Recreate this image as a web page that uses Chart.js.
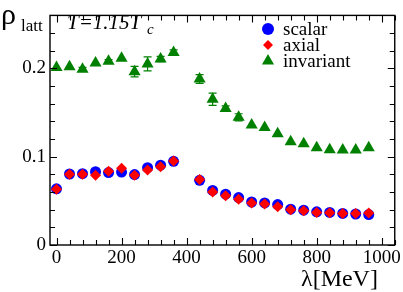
<!DOCTYPE html>
<html>
<head>
<meta charset="utf-8">
<script src="https://cdn.jsdelivr.net/npm/chart.js@4"></script>
<style>
  html, body { margin: 0; padding: 0; background: #fff; }
  canvas { display: block; }
</style>
</head>
<body>
<canvas id="rho-chart" width="403" height="292"></canvas>
<script>
// lambda cut values (MeV) and the three densities
const lambdaMeV = [0, 40, 80, 120, 160, 200, 240, 280, 320, 360,
  440, 480, 520, 560, 600, 640, 680, 720, 760, 800, 840, 880, 920, 960];
const scalarRho = [0.0636, 0.0804, 0.0807, 0.0830, 0.0820, 0.0826, 0.0797, 0.0875, 0.0904, 0.0947,
  0.0733, 0.0618, 0.0576, 0.0537, 0.0487, 0.0476, 0.0458, 0.0405, 0.0394, 0.0376, 0.0369, 0.0358, 0.0351, 0.0344];
const axialRho = [0.0632, 0.0800, 0.0802, 0.0790, 0.0834, 0.0870, 0.0790, 0.0848, 0.0886, 0.0952,
  0.0743, 0.0600, 0.0558, 0.0519, 0.0476, 0.0465, 0.0433, 0.0398, 0.0387, 0.0369, 0.0365, 0.0358, 0.0358, 0.0362];
const invariantRho = [0.2009, 0.2019, 0.1991, 0.2062, 0.2080, 0.2116, 0.1963, 0.2051, 0.2105, 0.2180,
  0.1880, 0.1650, 0.1545, 0.1446, 0.1360, 0.1330, 0.1260, 0.1170, 0.1147, 0.1100, 0.1080, 0.1075, 0.1075, 0.1100];
const invariantErr = [0, 0, 0.002, 0, 0.002, 0, 0.006, 0.008, 0.003, 0.003,
  0.005, 0.007, 0.003, 0.004, 0, 0, 0, 0, 0, 0, 0, 0, 0, 0];

const xTicks = [0, 200, 400, 600, 800, 1000];
const xTickLabels = ['0', '200', '400', '600', '800', '1000'];
const yTicks = [0, 0.1, 0.2];
const yTickLabels = ['0', '0.1', '0.2'];

const FONT = '"Liberation Serif", "DejaVu Serif", serif';
const BLUE = '#0000ff', RED = '#ff0000', GREEN = '#008000';

const toPoints = ys => lambdaMeV.map((x, i) => ({ x, y: ys[i] }));

// frame + inward ticks on all four sides
const framePlugin = {
  id: 'frame',
  afterDraw(chart) {
    const { ctx, chartArea: a, scales: { x, y } } = chart;
    ctx.save();
    ctx.strokeStyle = '#000';
    ctx.lineWidth = 1.4;
    ctx.strokeRect(a.left, a.top, a.right - a.left, a.bottom - a.top);
    ctx.lineWidth = 1.1;
    ctx.beginPath();
    for (let v = 0; v <= 1040; v += 40) {
      const px = Math.round(x.getPixelForValue(v)) + 0.5;
      const len = v % 200 === 0 ? 7 : 5;
      ctx.moveTo(px, a.bottom); ctx.lineTo(px, a.bottom - len);
      ctx.moveTo(px, a.top); ctx.lineTo(px, a.top + len);
    }
    for (let k = 0; k <= 13; k++) {
      const py = Math.round(y.getPixelForValue(k * 0.02)) + 0.5;
      const len = k % 5 === 0 ? 7 : 5;
      ctx.moveTo(a.left, py); ctx.lineTo(a.left + len, py);
      ctx.moveTo(a.right, py); ctx.lineTo(a.right - len, py);
    }
    ctx.stroke();
    ctx.restore();
  }
};

// error bars on the invariant series
const errorBarPlugin = {
  id: 'errorBars',
  afterDatasetsDraw(chart) {
    const { ctx, scales: { x, y } } = chart;
    ctx.save();
    ctx.strokeStyle = GREEN;
    ctx.lineWidth = 1.2;
    ctx.beginPath();
    lambdaMeV.forEach((lam, i) => {
      const e = invariantErr[i];
      if (!e) return;
      const px = x.getPixelForValue(lam);
      const hi = y.getPixelForValue(invariantRho[i] + e);
      const lo = y.getPixelForValue(invariantRho[i] - e);
      ctx.moveTo(px, hi); ctx.lineTo(px, lo);
      ctx.moveTo(px - 4, hi); ctx.lineTo(px + 4, hi);
      ctx.moveTo(px - 4, lo); ctx.lineTo(px + 4, lo);
    });
    ctx.stroke();
    ctx.restore();
  }
};

// axis titles, temperature label and the legend box
const labelsPlugin = {
  id: 'labels',
  afterDraw(chart) {
    const { ctx } = chart;
    ctx.save();
    ctx.fillStyle = '#000';
    ctx.textBaseline = 'alphabetic';
    ctx.textAlign = 'left';

    ctx.font = '30px ' + FONT;
    ctx.fillText('ρ', 1, 24);
    ctx.font = '17px ' + FONT;
    ctx.fillText('latt', 21, 31);

    ctx.font = 'italic 21px ' + FONT;
    ctx.fillText('T=1.15T', 67, 29);
    ctx.font = 'italic 15px ' + FONT;
    ctx.fillText('c', 147, 34);

    ctx.font = '24px ' + FONT;
    ctx.fillText('λ[MeV]', 301, 286);

    const entries = [
      { label: 'scalar', color: BLUE, style: 'circle', radius: 6 },
      { label: 'axial', color: RED, style: 'rectRot', radius: 5 },
      { label: 'invariant', color: GREEN, style: 'triangle', radius: 7 }
    ];
    ctx.font = '19px ' + FONT;
    entries.forEach((en, i) => {
      const cy = 29 + i * 16;
      ctx.fillStyle = en.color;
      ctx.strokeStyle = en.color;
      Chart.helpers.drawPoint(ctx, { pointStyle: en.style, radius: en.radius, rotation: 0, borderWidth: 0 }, 268, cy);
      ctx.fillStyle = '#000';
      ctx.fillText(en.label, 283, cy + 6);
    });
    ctx.restore();
  }
};

new Chart(document.getElementById('rho-chart'), {
  type: 'scatter',
  data: {
    datasets: [
      {
        label: 'axial',
        data: toPoints(axialRho),
        pointStyle: 'rectRot',
        pointRadius: 5.5,
        backgroundColor: RED,
        borderColor: RED,
        borderWidth: 0,
        order: 0
      },
      {
        label: 'scalar',
        data: toPoints(scalarRho),
        pointStyle: 'circle',
        pointRadius: 5.5,
        backgroundColor: BLUE,
        borderColor: BLUE,
        borderWidth: 0,
        order: 1
      },
      {
        label: 'invariant',
        data: toPoints(invariantRho),
        pointStyle: 'triangle',
        pointRadius: 7,
        backgroundColor: GREEN,
        borderColor: GREEN,
        borderWidth: 0,
        order: 0
      }
    ]
  },
  options: {
    responsive: false,
    animation: false,
    events: [],
    layout: { padding: { top: 1, right: 7, left: 0, bottom: 0 } },
    plugins: {
      legend: { display: false },
      tooltip: { enabled: false }
    },
    scales: {
      x: {
        type: 'linear',
        min: -20,
        max: 1040,
        afterBuildTicks: scale => { scale.ticks = xTicks.map(value => ({ value })); },
        afterFit: scale => { scale.height = 47; },
        grid: { display: false, drawTicks: false },
        border: { display: false },
        ticks: {
          padding: 2,
          color: '#000',
          font: { family: FONT, size: 19 },
          maxRotation: 0,
          callback: (val, i) => xTickLabels[i]
        }
      },
      y: {
        type: 'linear',
        min: 0,
        max: 0.26,
        afterBuildTicks: scale => { scale.ticks = yTicks.map(value => ({ value })); },
        afterFit: scale => { scale.width = 50; },
        grid: { display: false, drawTicks: false },
        border: { display: false },
        ticks: {
          padding: 4,
          color: '#000',
          font: { family: FONT, size: 19 },
          callback: (val, i) => yTickLabels[i]
        }
      }
    }
  },
  plugins: [framePlugin, errorBarPlugin, labelsPlugin]
});
</script>
</body>
</html>
